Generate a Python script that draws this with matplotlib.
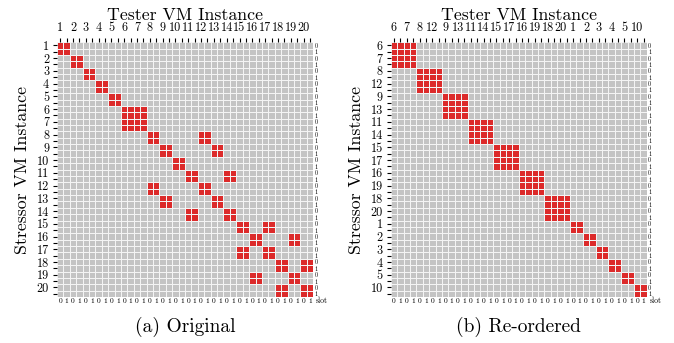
import numpy as np
import matplotlib.pyplot as plt
from matplotlib.colors import ListedColormap

plt.rcParams['font.family'] = 'serif'
plt.rcParams['font.serif'] = ['cmr10', 'DejaVu Serif']
plt.rcParams['axes.formatter.use_mathtext'] = True

# stressor VM -> tester VMs that show interference (original numbering)
vms = list(range(1, 21))
stressor = [1, 2, 3, 4, 5, 6, 6, 7, 7, 8, 8, 9, 9, 10, 11, 11, 12, 12, 13, 13,
            14, 14, 15, 15, 16, 16, 17, 17, 18, 18, 19, 19, 20, 20]
tester = [1, 2, 3, 4, 5, 6, 7, 6, 7, 8, 12, 9, 13, 10, 11, 14, 8, 12, 9, 13,
          11, 14, 15, 17, 16, 19, 15, 17, 18, 20, 16, 19, 18, 20]
reorder = [6, 7, 8, 12, 9, 13, 11, 14, 15, 17, 16, 19, 18, 20, 1, 2, 3, 4, 5, 10]
slots = 2

n = len(vms)
vm_mat = np.zeros((n, n))
for s, t in zip(stressor, tester):
    vm_mat[s - 1, t - 1] = 1

idx = [v - 1 for v in reorder]
vm_re = vm_mat[np.ix_(idx, idx)]

cmap = ListedColormap(['#c4c4c4', '#dc2a2a'])

fig = plt.figure(figsize=(6.74, 3.43), dpi=100)
ax1 = fig.add_axes([0.0846, 0.134, 0.380, 0.743])
ax2 = fig.add_axes([0.5797, 0.134, 0.380, 0.743])


def draw(ax, mat, labels, caption):
    cells = np.kron(mat, np.ones((slots, slots)))
    m = cells.shape[0]
    ax.pcolormesh(np.arange(m + 1), np.arange(m + 1), cells, cmap=cmap,
                  vmin=0, vmax=1, edgecolors='#f4f4f4', linewidth=0.6)
    ax.set_xlim(0, m)
    ax.set_ylim(m, 0)
    ax.set_aspect('auto')
    for sp in ax.spines.values():
        sp.set_visible(False)
    pos = np.arange(m) + 0.5
    lab = [str(labels[i // slots]) if i % slots == 0 else '' for i in range(m)]
    ax.set_xticks(pos, lab, fontsize=8.8)
    ax.set_yticks(pos, lab, fontsize=8.8)
    ax.xaxis.tick_top()
    ax.tick_params(axis='x', length=2.6, width=0.8, pad=3.5)
    ax.tick_params(axis='y', length=3.2, width=0.8, pad=2.5)
    ax.set_xlabel('Tester VM Instance', fontsize=12.8, labelpad=1.5)
    ax.xaxis.set_label_position('top')
    ax.set_ylabel('Stressor VM Instance', fontsize=12.8, labelpad=5)

    slot_lab = [str(i % slots) for i in range(m)]
    sec_x = ax.secondary_xaxis('bottom')
    sec_x.set_xticks(pos, slot_lab, fontsize=5.4)
    sec_x.tick_params(length=0, pad=1)
    sec_x.spines['bottom'].set_visible(False)
    sec_y = ax.secondary_yaxis('right')
    sec_y.set_yticks(pos, slot_lab, fontsize=4.4)
    sec_y.tick_params(length=0, pad=1)
    sec_y.spines['right'].set_visible(False)
    ax.text(m + 0.45, m + 0.95, 'slot', fontsize=5.6, ha='left', va='baseline')
    ax.text(0.5, -0.118, caption, transform=ax.transAxes, fontsize=14,
            ha='center', va='center')


draw(ax1, vm_mat, vms, '(a) Original')
draw(ax2, vm_re, reorder, '(b) Re-ordered')

fig.savefig('out.png', dpi=100)
